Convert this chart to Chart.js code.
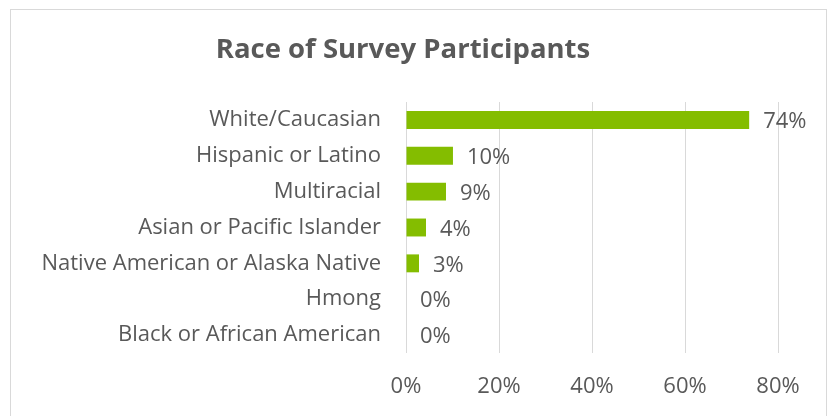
<!DOCTYPE html>
<html>
<head>
<meta charset="utf-8">
<script src="https://cdn.jsdelivr.net/npm/chart.js@4"></script>
<style>
  html, body { margin: 0; padding: 0; background: #fff; }
  #wrap { position: relative; width: 832px; height: 416px; overflow: hidden; }
  #frame { position: absolute; left: 10px; top: 9px; width: 815px; height: 430px; border: 1px solid #d9d9d9; pointer-events: none; }
</style>
</head>
<body>
<div id="wrap">
  <canvas id="chart" width="832" height="416"></canvas>
  <div id="frame"></div>
</div>
<script>
const categories = [
  'White/Caucasian',
  'Hispanic or Latino',
  'Multiracial',
  'Asian or Pacific Islander',
  'Native American or Alaska Native',
  'Hmong',
  'Black or African American'
]
const shares = [73.8, 10.1, 8.6, 4.3, 2.8, 0, 0]
const xTicks = [0, 20, 40, 60, 80]

const textColor = '#595959'
const fontFamily = '"Open Sans", "Noto Sans", sans-serif'

// draws the value next to the end of each bar
const barLabels = {
  id: 'barLabels',
  afterDatasetsDraw(chart) {
    const ctx = chart.ctx
    const meta = chart.getDatasetMeta(0)
    ctx.save()
    ctx.font = '22px ' + fontFamily
    ctx.fillStyle = textColor
    ctx.textAlign = 'left'
    ctx.textBaseline = 'middle'
    meta.data.forEach((bar, i) => {
      ctx.fillText(Math.round(shares[i]) + '%', bar.x + 14, bar.y + 2)
    })
    ctx.restore()
  }
}

new Chart(document.getElementById('chart'), {
  type: 'bar',
  data: {
    labels: categories,
    datasets: [{
      data: shares,
      backgroundColor: '#84bd00',
      barPercentage: 0.5,
      categoryPercentage: 1
    }]
  },
  options: {
    indexAxis: 'y',
    responsive: false,
    animation: false,
    layout: { padding: { left: 28, right: 54, top: 24, bottom: 15 } },
    scales: {
      x: {
        min: 0,
        max: 80,
        afterBuildTicks: axis => { axis.ticks = xTicks.map(v => ({ value: v })) },
        afterFit: axis => { axis.height = 48 },
        grid: { color: '#d9d9d9', drawTicks: false },
        border: { display: false },
        ticks: {
          padding: 21,
          maxRotation: 0,
          color: textColor,
          font: { family: fontFamily, size: 22 },
          callback: v => v + '%'
        }
      },
      y: {
        grid: { display: false, drawTicks: false },
        border: { display: false },
        afterFit: axis => { axis.width = 406 - 28 },
        ticks: {
          padding: 25,
          color: textColor,
          font: { family: fontFamily, size: 22 }
        }
      }
    },
    plugins: {
      legend: { display: false },
      tooltip: { enabled: false },
      title: {
        display: true,
        text: 'Race of Survey Participants',
        color: textColor,
        font: { family: fontFamily, size: 27.5, weight: 'bold' },
        padding: { top: 10, bottom: 35 }
      }
    }
  },
  plugins: [barLabels]
})
</script>
</body>
</html>
